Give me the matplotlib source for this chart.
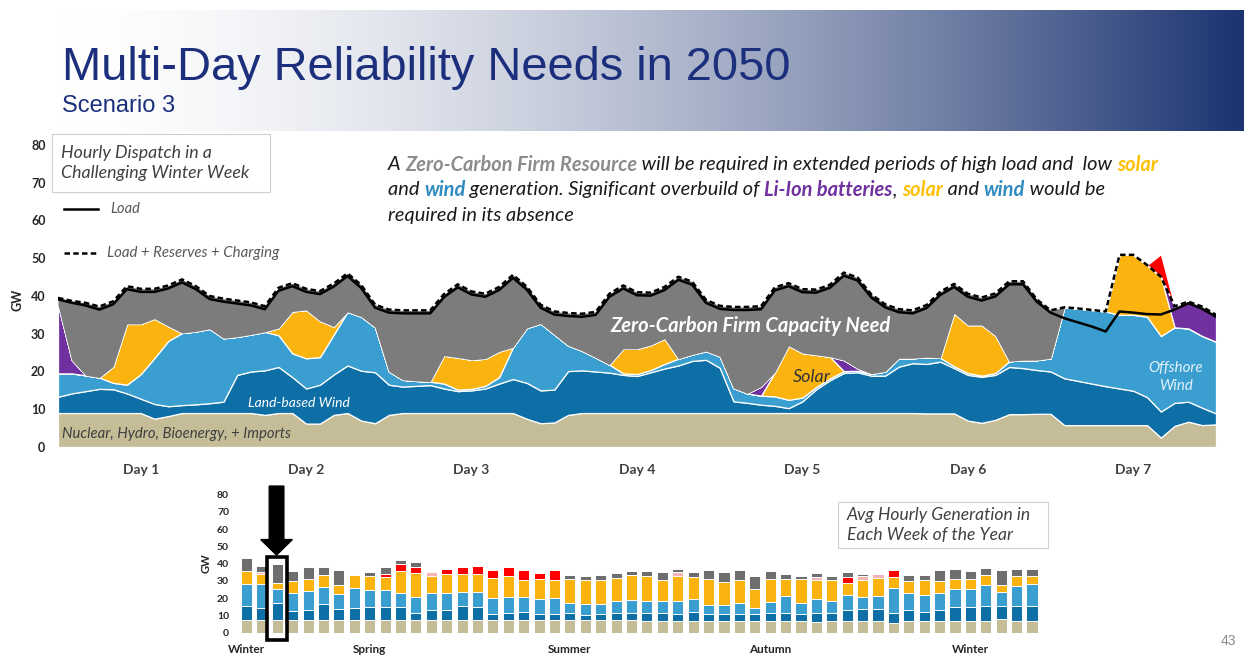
import numpy as np
import matplotlib
matplotlib.use("Agg")
import matplotlib.pyplot as plt
from matplotlib.lines import Line2D
from matplotlib.patches import Rectangle

# ---------------- data: hourly dispatch, challenging winter week (2-hour steps) ----------------
hours = np.arange(0, 169, 2)

nuclear_hydro_bio_imports = [
    9, 9, 9, 9, 9, 9, 9, 7.5, 8.2, 9,
    9, 9, 9, 9, 9, 8.5, 9, 9, 6.2, 6.2,
    8.5, 9, 7.0, 6.3, 8.5, 9, 9, 9, 9, 9,
    9, 9, 9, 9, 7.5, 6.3, 6.5, 8.5, 9, 9,
    9, 9, 9, 9, 9, 9, 9, 9, 9, 9,
    9, 9, 9, 9, 9, 9, 9, 9, 9, 9,
    9, 9, 9, 8.9, 8.9, 8.9, 7.0, 6.4, 7.2, 8.7,
    8.7, 8.8, 8.8, 5.8, 5.8, 5.8, 5.8, 5.8, 5.8, 5.8,
    2.5, 5.6, 6.7, 5.8, 6.0]

land_wind = [
    4.3, 5.2, 5.8, 6.4, 6.3, 5.2, 3.8, 3.9, 2.6, 2.1,
    2.3, 2.6, 3.0, 10.1, 11.0, 11.8, 12.2, 9.5, 9.3, 10.3,
    10.7, 12.6, 13.2, 13.5, 8.0, 7.0, 7.2, 7.4, 6.5, 5.8,
    6.0, 6.5, 7.8, 9.0, 9.5, 8.7, 8.7, 11.6, 11.3, 11.0,
    10.7, 10.1, 9.8, 10.8, 11.8, 12.6, 13.8, 14.1, 12.0, 3.1,
    2.7, 2.2, 1.9, 1.3, 3.1, 6.3, 8.7, 10.6, 10.8, 9.9,
    9.9, 12.3, 13.2, 13.1, 13.7, 12.0, 12.1, 12.2, 11.9, 12.5,
    12.2, 11.6, 11.2, 12.4, 11.7, 11.0, 10.3, 9.7, 9.1, 7.4,
    6.9, 6.1, 5.3, 4.6, 2.9]

offshore_wind = [
    6.2, 5.3, 4.2, 3.0, 1.7, 2.3, 6.5, 12.2, 17.3, 19.1,
    19.3, 19.7, 16.8, 10.1, 9.8, 10.2, 8.4, 6.3, 8.0, 7.3,
    10.6, 14.2, 14.3, 11.9, 3.5, 1.8, 1.3, 0.9, 1.3, 0.4,
    0.4, 0.7, 1.7, 8.4, 14.5, 17.7, 14.6, 6.8, 5.2, 3.7,
    2.1, 0.4, 0.5, 0.6, 1.2, 1.8, 1.7, 2.3, 3.0, 3.5,
    2.5, 2.4, 2.5, 2.2, 1.0, 0.6, 0.5, 0.5, 0.4, 0.5,
    1.1, 2.2, 1.3, 1.8, 1.0, 0.5, 0.5, 0.3, 0.5, 1.5,
    2.1, 2.6, 3.5, 18.8, 19.2, 19.5, 19.8, 19.5, 20.1, 21.3,
    20.0, 20.0, 19.4, 19.0, 19.0]

solar = [
    0, 0, 0, 0, 4.3, 16.1, 13.3, 10.4, 3.9, 0,
    0, 0, 0, 0, 0, 0, 1.9, 11.1, 12.8, 9.6,
    2.1, 0, 0, 0, 0, 0, 0, 0, 7.4, 8.5,
    7.7, 7.2, 6.8, 0, 0, 0, 0, 0, 0, 0,
    0, 6.5, 6.7, 6.6, 6.7, 0, 0, 0, 0, 0,
    0, 0, 6.4, 14.3, 11.8, 8.5, 5.7, 0, 0, 0,
    0, 0, 0, 0, 0, 14.0, 12.7, 13.4, 9.9, 0,
    0, 0, 0, 0, 0, 0, 0, 15.9, 15.9, 13.7,
    15.7, 0, 0, 0, 0]

li_ion = [
    18.1, 3.5, 0, 0, 0, 0, 0, 0, 0, 0,
    0, 0, 0, 0, 0, 0, 0, 0, 0, 0,
    0, 0, 0, 0, 0, 0, 0, 0, 0, 0,
    0, 0, 0, 0, 0, 0, 0, 0, 0, 0,
    0, 0, 0, 0, 0, 0, 0, 0, 0, 0,
    0, 2.4, 0, 0, 0, 0, 0, 2.9, 0.6, 0,
    0, 0, 0, 0, 0, 0, 0, 0, 0, 0,
    0, 0, 0, 0, 0, 0, 0, 0, 0, 0,
    0, 5.6, 7.1, 7.7, 7.1]

shortfall = [0] * 80 + [6.0, 0, 0, 0, 0]

load = [
    39.1, 38.2, 37.5, 36.4, 37.8, 41.8, 41.1, 41.1, 42.0, 43.6,
    41.8, 39.2, 38.5, 38.0, 37.5, 36.5, 41.4, 42.6, 41.1, 40.5,
    42.5, 45.3, 42.1, 36.9, 35.6, 35.4, 35.4, 35.4, 39.7, 42.3,
    40.4, 39.8, 41.6, 44.8, 41.7, 36.9, 35.1, 34.7, 34.5, 35.0,
    39.8, 42.0, 40.2, 40.1, 41.6, 44.3, 43.0, 38.2, 36.6, 36.3,
    36.3, 36.5, 41.5, 42.6, 41.0, 40.9, 42.2, 45.4, 44.1, 39.6,
    37.0, 35.7, 35.4, 36.8, 40.3, 42.4, 39.8, 38.8, 39.9, 43.1,
    43.1, 38.5, 35.6, 34.1, 33.0, 31.9, 30.6, 35.9, 35.6, 35.2,
    35.1, 36.4, 38.1, 36.6, 34.5]

load_reserves_charging = [
    39.5, 38.7, 38.2, 37.2, 38.6, 42.6, 41.9, 41.9, 42.8, 44.4,
    42.6, 40.0, 39.3, 38.8, 38.3, 37.3, 42.2, 43.4, 41.9, 41.3,
    43.3, 46.0, 42.9, 37.7, 36.4, 36.2, 36.2, 36.2, 40.5, 43.1,
    41.2, 40.6, 42.4, 45.6, 42.5, 37.7, 35.9, 35.5, 35.3, 35.8,
    40.6, 42.8, 41.0, 40.9, 42.4, 45.1, 43.8, 39.0, 37.4, 37.1,
    37.1, 37.3, 42.3, 43.4, 41.8, 41.7, 43.0, 46.2, 44.9, 40.4,
    37.8, 36.5, 36.2, 37.6, 41.1, 43.2, 40.6, 39.6, 40.7, 43.9,
    43.9, 39.1, 36.2, 37.0, 36.7, 36.3, 35.9, 50.9, 50.9, 48.2,
    45.1, 37.3, 38.5, 37.2, 35.0]

day_labels = ["Day 1", "Day 2", "Day 3", "Day 4", "Day 5", "Day 6", "Day 7"]
day_centers = [12, 36, 60, 84, 108, 132, 156]

# ---------------- data: average hourly generation per week ----------------
wk_base = [7.4, 7.4, 7.4, 7.4, 7.4, 7.4, 7.4, 7.4, 7.4, 7.4,
           7.4, 7.4, 7.4, 7.4, 7.4, 7.4, 7.4, 7.4, 7.4, 7.4,
           7.4, 7.4, 7.4, 7.4, 7.4, 7.4, 7.0, 7.0, 7.0, 7.0,
           7.0, 7.0, 7.0, 7.0, 7.0, 7.0, 7.0, 6.4, 7.0, 7.0,
           7.0, 7.0, 5.8, 7.0, 7.0, 7.0, 7.0, 7.0, 7.0, 7.8,
           7.0, 7.0]
wk_land = [7.9, 6.7, 9.6, 5.2, 5.8, 9.1, 6.4, 6.7, 7.7, 7.3,
           7.3, 4.2, 5.8, 5.8, 8.1, 7.7, 3.3, 3.8, 4.8, 3.3,
           3.3, 4.2, 2.9, 3.5, 3.8, 3.8, 4.2, 4.2, 3.9, 5.2,
           3.9, 3.9, 3.9, 3.7, 4.6, 4.6, 3.9, 4.8, 4.6, 6.2,
           6.6, 6.6, 5.4, 6.2, 5.2, 6.2, 7.7, 8.1, 8.5, 7.7,
           8.5, 8.5]
wk_offshore = [13.2, 14.0, 8.5, 10.3, 11.0, 9.9, 8.7, 11.7, 9.7, 10.1,
               8.2, 9.3, 10.1, 9.7, 8.3, 8.7, 9.3, 9.7, 8.3, 8.7,
               9.3, 5.8, 6.4, 5.8, 7.4, 7.8, 7.2, 7.4, 7.7, 7.2,
               5.4, 5.4, 6.5, 3.8, 6.4, 9.7, 6.5, 8.6, 7.0, 8.7,
               7.3, 7.7, 15.0, 10.1, 9.7, 9.7, 10.9, 10.1, 12.2, 8.3,
               11.6, 12.8]
wk_solar = [7.0, 5.8, 3.5, 6.9, 6.8, 7.1, 5.2, 7.7, 7.8, 7.5,
            13.1, 13.6, 9.3, 11.2, 10.3, 10.3, 11.6, 11.7, 10.1, 11.6,
            10.6, 13.6, 13.9, 13.9, 13.0, 14.5, 14.7, 12.2, 14.0, 12.8,
            15.1, 13.2, 13.2, 11.1, 13.0, 9.7, 13.6, 10.6, 12.0, 6.8,
            9.5, 10.3, 6.0, 6.9, 8.7, 7.3, 5.4, 5.8, 5.8, 3.9,
            5.5, 4.3]
wk_storage = [0, 1.3, 0, 0, 0, 0, 0, 0, 0, 0,
              0, 0, 2.3, 0, 0, 0, 0, 0, 0, 0,
              0, 0, 0, 0, 0, 0, 0, 0, 2.3, 0,
              0, 0, 0, 0, 0, 0, 0, 1.9, 0, 0,
              2.2, 2.5, 0, 0, 0, 0, 0, 0, 0, 0,
              0, 0]
wk_shortfall = [0, 0, 0, 0, 0, 0, 0, 0, 0, 2.0,
                3.9, 3.5, 0, 2.7, 3.9, 4.7, 4.8, 5.4, 5.8, 3.5,
                5.8, 0, 0, 0, 0, 0, 0, 0, 0, 0,
                0, 0, 0, 0, 0, 0, 0, 0, 0, 3.5,
                0, 0, 4.2, 0, 0, 0, 0, 0, 0, 0,
                0, 0]
wk_firm = [7.7, 3.6, 11.0, 6.2, 7.0, 4.5, 8.7, 0, 2.4, 3.5,
           2.3, 2.7, 0, 0, 0, 0, 0, 0, 0, 0,
           0, 2.5, 2.3, 2.9, 2.9, 2.5, 2.9, 4.1, 1.9, 2.7,
           5.0, 5.4, 5.8, 7.0, 4.5, 3.1, 1.9, 2.2, 2.3, 2.7,
           1.5, 0, 0, 3.3, 2.9, 6.2, 5.8, 4.5, 3.9, 8.7,
           4.2, 4.2]
season_labels = ["Winter", "Spring", "Summer", "Autumn", "Winter"]
season_weeks = [0, 8, 21, 34, 47]
highlight_week = 2

# ---------------- styling ----------------
C_BASE = "#c4bd97"
C_LAND = "#0d6fa6"
C_OFF = "#3a9fd0"
C_SOLAR = "#fbb40f"
C_BATT = "#7030a0"
C_RED = "#ff0000"
C_FIRM = "#7c7c7c"
C_FIRM_WK = "#6e6e6e"
C_STORE = "#f5b3b8"
NAVY = "#1c2f7c"
SANS = ["Lato", "DejaVu Sans"]
ARIAL = ["Liberation Sans", "DejaVu Sans"]

W, H = 1244, 656
fig = plt.figure(figsize=(W / 100, H / 100), dpi=100)
fig.patch.set_facecolor("white")


def fx(px):
    return px / W


def fy(py):
    return 1 - py / H


# header band with horizontal gradient
band = fig.add_axes([0, fy(131), 1, (131 - 10) / H])
gx = np.linspace(0, W, 800)
ramp = np.clip((gx - 60) / 1184, 0, 1) ** 1.6
navy_rgb = np.array([27, 51, 112]) / 255
grad = (1 - ramp)[:, None] * np.ones(3) + ramp[:, None] * navy_rgb
band.imshow(grad[None, :, :], aspect="auto", extent=[0, 1, 0, 1])
band.axis("off")

fig.text(fx(62), fy(80), "Multi-Day Reliability Needs in 2050", family=ARIAL,
         fontsize=33.8, color=NAVY, va="baseline", ha="left")
fig.text(fx(62), fy(112), "Scenario 3", family=ARIAL, fontsize=17,
         color=NAVY, va="baseline", ha="left")

# ---------------- main hourly dispatch chart ----------------
ax = fig.add_axes([fx(58), fy(447), (1216 - 58) / W, (447 - 145) / H])
gen = [np.array(v, dtype=float) for v in
       (nuclear_hydro_bio_imports, land_wind, offshore_wind, solar, li_ion)]
served = np.sum(gen, axis=0)
firm_need = np.clip(np.array(load_reserves_charging) - served, 0, None)
layers = gen + [np.array(shortfall, dtype=float), firm_need]
colors = [C_BASE, C_LAND, C_OFF, C_SOLAR, C_BATT, C_RED, C_FIRM]
polys = ax.stackplot(hours, *layers, colors=colors)
for p in polys:
    p.set_edgecolor("white")
    p.set_linewidth(0.9)
polys[-1].set_linewidth(0)
ax.plot(hours, load, color="black", lw=1.8, solid_joinstyle="round")
ax.plot(hours, load_reserves_charging, color="black", lw=1.8,
        ls=(0, (2.2, 1.3)))

ax.set_xlim(0, 168)
ax.set_ylim(0, 80)
ax.set_yticks(range(0, 81, 10))
ax.set_xticks(day_centers)
ax.set_xticklabels(day_labels)
for s in ax.spines.values():
    s.set_visible(False)
ax.tick_params(axis="both", length=0, colors="#262626")
ax.tick_params(axis="y", pad=9)
ax.tick_params(axis="x", pad=12)
for lab in ax.get_yticklabels() + ax.get_xticklabels():
    lab.set_family(SANS)
    lab.set_fontweight("bold")
for lab in ax.get_yticklabels():
    lab.set_fontsize(9)
for lab in ax.get_xticklabels():
    lab.set_fontsize(10)
    lab.set_color("#404040")
ax.patch.set_alpha(0)
fig.text(fx(18), fy(300), "GW", rotation=90, family=SANS, fontweight="bold",
         fontsize=9, color="#262626", ha="center", va="center")

# labels inside the stacked areas
fig.text(fx(750), fy(326), "Zero-Carbon Firm Capacity Need", family=SANS,
         style="italic", fontweight="bold", fontsize=14.5, color="white",
         ha="center", va="center")
fig.text(fx(812), fy(377), "Solar", family=SANS, style="italic",
         fontsize=13, color="#333333", ha="center", va="center")
fig.text(fx(299), fy(403), "Land-based Wind", family=SANS, style="italic",
         fontsize=10, color="white", ha="center", va="center")
fig.text(fx(62), fy(434), "Nuclear, Hydro, Bioenergy, + Imports", family=SANS,
         style="italic", fontsize=10.7, color="#3f3f3f", ha="left", va="center")
fig.text(fx(1176), fy(377), "Offshore\nWind", family=SANS, style="italic",
         fontsize=10.8, color="#e3f1fa", ha="center", va="center",
         linespacing=1.3)

# title box + line legend
fig.patches.append(Rectangle((fx(52), fy(192)), (270 - 52) / W, (192 - 134) / H,
                             transform=fig.transFigure, facecolor="white",
                             edgecolor="#d0d0d0", lw=0.8))
fig.text(fx(61), fy(163), "Hourly Dispatch in a\nChallenging Winter Week",
         family=SANS, style="italic", fontsize=12.8, color="#404040",
         ha="left", va="center", linespacing=1.25)
fig.lines.append(Line2D([fx(64), fx(98)], [fy(209), fy(209)], color="black",
                        lw=1.8, transform=fig.transFigure))
fig.lines.append(Line2D([fx(64), fx(98)], [fy(253), fy(253)], color="black",
                        lw=1.8, ls=(0, (2.2, 1.3)), transform=fig.transFigure))
fig.text(fx(110), fy(209), "Load", family=SANS, style="italic", fontsize=10.5,
         color="#595959", ha="left", va="center")
fig.text(fx(107), fy(253), "Load + Reserves + Charging", family=SANS,
         style="italic", fontsize=10.8, color="#595959", ha="left", va="center")

# coloured explanatory paragraph
renderer = fig.canvas.get_renderer()


def rich_line(x_px, y_px, parts, size):
    x = fx(x_px)
    for text, col, wt in parts:
        t = fig.text(x, fy(y_px), text, color=col, fontweight=wt,
                     fontsize=size, family=SANS, style="italic",
                     ha="left", va="center")
        x += t.get_window_extent(renderer).width / W


K, GRAY, YEL, BLU, PUR = "#1a1a1a", "#8c8c8c", "#ffc000", "#2e8bc0", "#7030a0"
para_size = 14.4
rich_line(388, 165, [("A ", K, "normal"),
                     ("Zero-Carbon Firm Resource", GRAY, "bold"),
                     (" will be required in extended periods of high load and  low ", K, "normal"),
                     ("solar", YEL, "bold")], para_size)
rich_line(388, 190, [("and ", K, "normal"), ("wind", BLU, "bold"),
                     (" generation. Significant overbuild of ", K, "normal"),
                     ("Li-Ion batteries", PUR, "bold"), (", ", K, "normal"),
                     ("solar", YEL, "bold"), (" and ", K, "normal"),
                     ("wind", BLU, "bold"), (" would be", K, "normal")], para_size)
rich_line(388, 215, [("required in its absence", K, "normal")], para_size)

# ---------------- weekly average generation chart ----------------
ax2 = fig.add_axes([fx(238.8), fy(632.7), (1039.7 - 238.8) / W, (632.7 - 494.7) / H])
weeks = np.arange(len(wk_base))
bottom = np.zeros(len(weeks))
for vals, col in ((wk_base, C_BASE), (wk_land, C_LAND), (wk_offshore, C_OFF),
                  (wk_solar, C_SOLAR), (wk_storage, C_STORE),
                  (wk_shortfall, C_RED), (wk_firm, C_FIRM_WK)):
    v = np.array(vals, dtype=float)
    ax2.bar(weeks, v, bottom=bottom, width=0.72, color=col,
            edgecolor="white", linewidth=0.7)
    bottom += v
ax2.set_xlim(-0.5, 51.5)
ax2.set_ylim(0, 80)
ax2.set_yticks(range(0, 81, 10))
ax2.set_xticks(season_weeks)
ax2.set_xticklabels(season_labels)
for s in ax2.spines.values():
    s.set_visible(False)
ax2.tick_params(axis="both", length=0, colors="#262626")
ax2.tick_params(axis="y", pad=7)
ax2.tick_params(axis="x", pad=8)
for lab in ax2.get_yticklabels() + ax2.get_xticklabels():
    lab.set_family(SANS)
    lab.set_fontweight("bold")
    lab.set_fontsize(7.5)
for lab in ax2.get_xticklabels():
    lab.set_fontsize(8.5)
ax2.patch.set_alpha(0)
fig.text(fx(206), fy(563), "GW", rotation=90, family=SANS, fontweight="bold",
         fontsize=8, color="#262626", ha="center", va="center")

# highlighted week: frame and arrow
ax2.add_patch(Rectangle((highlight_week - 0.65, -4.2), 1.25, 48.2, fill=False,
                        edgecolor="black", lw=2.6, clip_on=False))
ax2.arrow(highlight_week - 0.05, 85, 0, -40, width=0.95, head_width=2.05,
          head_length=9, length_includes_head=True, color="black",
          clip_on=False)

fig.patches.append(Rectangle((fx(838), fy(548)), (1048 - 838) / W, (548 - 502) / H,
                             transform=fig.transFigure, facecolor="white",
                             edgecolor="#d0d0d0", lw=0.8))
fig.text(fx(847), fy(525), "Avg Hourly Generation in\nEach Week of the Year",
         family=SANS, style="italic", fontsize=12.6, color="#404040",
         ha="left", va="center", linespacing=1.25)

fig.text(fx(1228), fy(641), "43", family=ARIAL, fontsize=10, color="#8c8c8c",
         ha="center", va="center")

fig.savefig("out.png", dpi=100, facecolor="white")
